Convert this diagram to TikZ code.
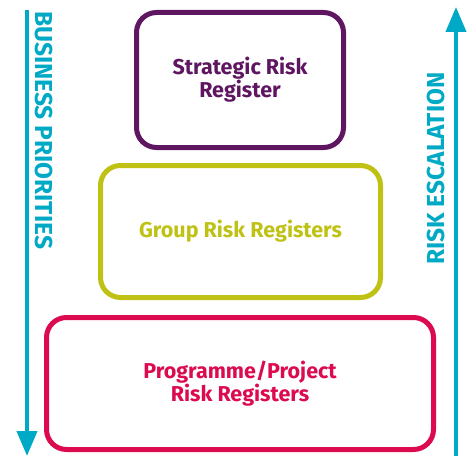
\documentclass[tikz,border=0pt]{standalone}
\usepackage{fontspec}
\setmainfont{Fira Sans}
\usetikzlibrary{arrows.meta}
\definecolor{regpurple}{HTML}{5E1661}
\definecolor{reglime}{HTML}{BFC214}
\definecolor{regred}{HTML}{DC0A4F}
\definecolor{regteal}{HTML}{00A9C5}
\begin{document}
\begin{tikzpicture}[x=1pt,y=-1pt,
        register/.style={draw, line width=5pt, rounded corners=20pt, align=center,
                font=\fontsize{21.5}{23}\selectfont\bfseries},
        sidelabel/.style={text=regteal, font=\fontsize{24.5}{26}\selectfont\bfseries, inner sep=0pt},
        flow/.style={draw=regteal, line width=4pt, -{Triangle[length=25pt,width=20pt]}}]
        \useasboundingbox (0,0) rectangle (470,457);
        \node [register, draw=regpurple, text=regpurple, minimum width=207pt, minimum height=135pt] (strategic) at (240,80) {Strategic Risk\\Register};
        \node [register, draw=reglime, text=reglime, minimum width=280pt, minimum height=132pt] (group) at (240.5,231.5) {Group Risk Registers};
        \node [register, draw=regred, text=regred, minimum width=387pt, minimum height=132pt] (programme) at (240,383.5) {Programme/Project\\Risk Registers};
        \coordinate (bptop) at (27,10);
        \coordinate (bpend) at (27,456);
        \coordinate (rebottom) at (456,456);
        \coordinate (retop) at (456,7);
        \draw [flow] (bptop) -- (bpend);
        \draw [flow] (rebottom) -- (retop);
        \node [sidelabel, rotate=-90, anchor=south west] (priorities) at (35,11) {BUSINESS PRIORITIES};
        \node [sidelabel, rotate=90, anchor=south west] (escalation) at (445,265) {RISK ESCALATION};
\end{tikzpicture}
\end{document}
